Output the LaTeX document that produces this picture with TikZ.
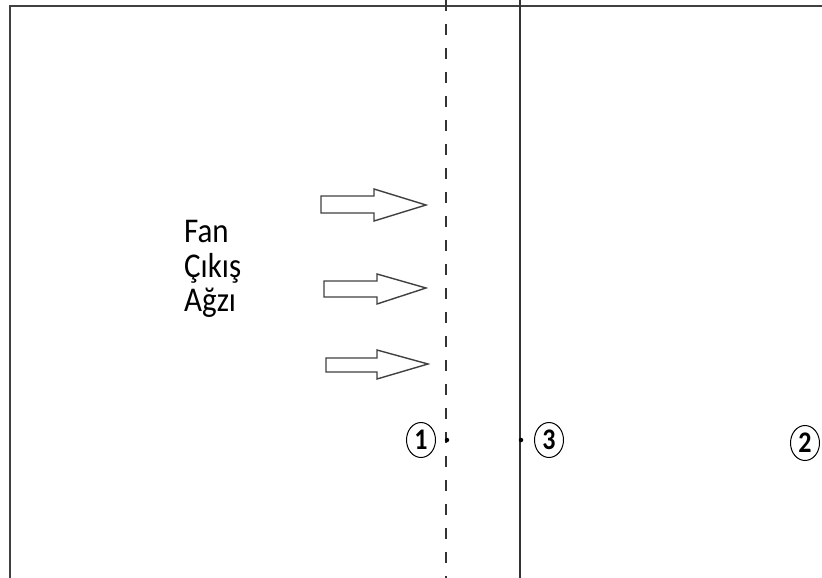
\documentclass[tikz,border=0pt]{standalone}
\usepackage{fontspec}
\setmainfont{Carlito}
\usetikzlibrary{shapes.geometric}
\begin{document}
\begin{tikzpicture}[x=1pt,y=-1pt,
  border/.style={line width=2pt,draw=black!75},
  divider/.style={line width=1.5pt,draw=black!80},
  flowarrow/.style={line width=1.4pt,draw=black!75,fill=white,line join=miter},
  pointlabel/.style={ellipse,draw=black,line width=1pt,inner sep=0pt,minimum width=29pt,minimum height=35pt,
     font=\fontsize{26}{26}\selectfont\bfseries},
  probe/.style={circle,fill=black,inner sep=0pt,minimum size=4.5pt},
  fanlabel/.style={align=left,anchor=north west,inner sep=0pt,font=\fontsize{31}{31}\selectfont}]
\useasboundingbox (0,0) rectangle (822,578);
% border
\draw[border] (10,578) -- (10,6) -- (822,6);
% dashed and solid lines
\draw[divider,dash pattern=on 11pt off 13pt] (446,0) -- (446,578);
\draw[divider] (520,0) -- (520,578);
% arrows
\draw[flowarrow] (321,196) -- (374,196) -- (374,189) -- (426,205) -- (374,221) -- (374,213) -- (321,213) -- cycle;
\draw[flowarrow] (324,281) -- (377,281) -- (377,274) -- (426,288) -- (377,304) -- (377,297) -- (324,297) -- cycle;
\draw[flowarrow] (326,358) -- (377,358) -- (377,350) -- (428,364) -- (377,379) -- (377,372) -- (326,372) -- cycle;
% label
\node[fanlabel] (fan) at (184,218) {\scalebox{1}[1.12]{\begin{tabular}{@{}l@{}}Fan\\Çıkış\\Ağzı\end{tabular}}};
% points
\node[probe] (p1) at (447,440) {};
\node[probe] (p3) at (521,440) {};
\node[pointlabel] (c1) at (421,440) {\scalebox{1}[1.15]{1}};
\node[pointlabel] (c3) at (549,440) {\scalebox{1}[1.15]{3}};
\node[pointlabel] (c2) at (805,443) {\scalebox{1}[1.15]{2}};
\end{tikzpicture}
\end{document}
